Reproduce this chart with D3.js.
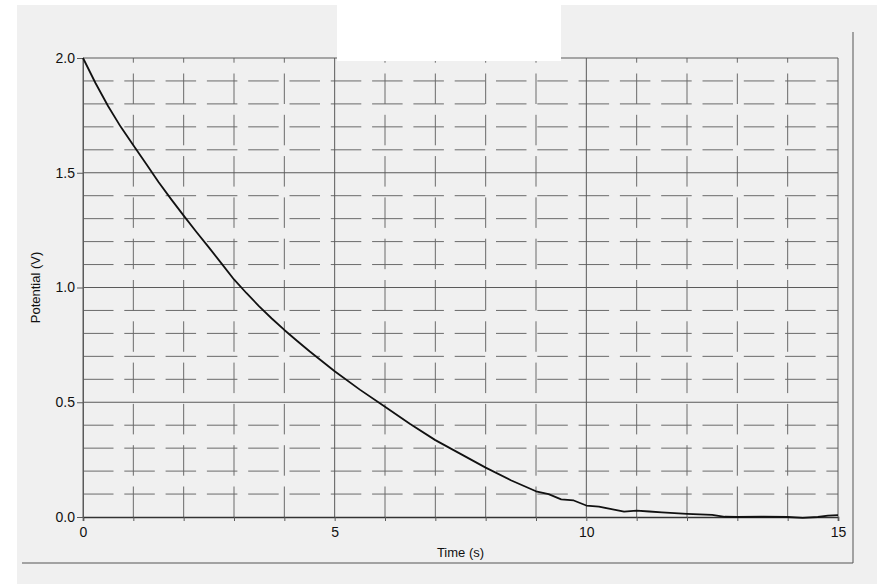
<html>
    <head>
        <title>Potential vs Time</title>
        <script src="https://d3js.org/d3.v7.min.js"></script>
        <style>
            body { margin: 0; background: #ffffff; }
            text { font-family: "Liberation Sans", Arial, sans-serif; fill: #111; }
        </style>
        <script>
            // values
            const times = [0, 0.25, 0.5, 0.75, 1, 1.25, 1.5, 1.75, 2, 2.25, 2.5, 2.75, 3, 3.25, 3.5, 3.75, 4, 4.25, 4.5, 5, 5.5, 6, 6.5, 7, 7.5, 8, 8.5, 9, 9.25, 9.5, 9.75, 10, 10.25, 10.5, 10.75, 11, 11.25, 11.5, 12, 12.5, 12.75, 13, 13.5, 14, 14.3, 14.6, 14.8, 15];
            const volts = [2.00, 1.89, 1.79, 1.70, 1.62, 1.54, 1.46, 1.385, 1.313, 1.243, 1.175, 1.105, 1.035, 0.975, 0.918, 0.865, 0.815, 0.768, 0.722, 0.635, 0.555, 0.48, 0.405, 0.335, 0.275, 0.215, 0.16, 0.112, 0.10, 0.077, 0.072, 0.050, 0.045, 0.034, 0.023, 0.028, 0.024, 0.020, 0.014, 0.009, 0.001, 0.0, 0.001, 0.0, -0.004, 0.0, 0.006, 0.008];
            const xTicks = [0, 5, 10, 15];
            const yTicks = [0, 0.5, 1.0, 1.5, 2.0];

            document.addEventListener('DOMContentLoaded', function(){
                const w = 877;
                const h = 584;

                const xScale = d3.scaleLinear().domain([0, 15]).range([83, 838]);
                const yScale = d3.scaleLinear().domain([0, 2]).range([517, 58]);

                const svg = d3.select("body")
                    .append("svg")
                    .attr("width", w)
                    .attr("height", h);

                // paper
                svg.append("rect")
                    .attr("x", 17).attr("y", 5)
                    .attr("width", w - 17).attr("height", h - 5)
                    .attr("fill", "#f0f0f0");

                // minor grid (dashed)
                const minorX = d3.range(1, 15).filter(d => d % 5 !== 0);
                const minorY = d3.range(1, 20).filter(d => d % 5 !== 0).map(d => d / 10);

                svg.append("g").selectAll("line")
                    .data(minorY)
                    .enter()
                    .append("line")
                    .attr("x1", xScale(0)).attr("x2", xScale(15))
                    .attr("y1", d => yScale(d)).attr("y2", d => yScale(d))
                    .attr("stroke", "#6a6a6a")
                    .attr("stroke-width", 1)
                    .attr("stroke-dasharray", "30.5,10.8");

                svg.append("g").selectAll("line")
                    .data(minorX)
                    .enter()
                    .append("line")
                    .attr("x1", d => xScale(d)).attr("x2", d => xScale(d))
                    .attr("y1", yScale(0)).attr("y2", yScale(2))
                    .attr("stroke", "#6a6a6a")
                    .attr("stroke-width", 1)
                    .attr("stroke-dasharray", "30.5,10.8");

                // major grid (solid)
                svg.append("g").selectAll("line")
                    .data(yTicks.slice(1))
                    .enter()
                    .append("line")
                    .attr("x1", xScale(0)).attr("x2", xScale(15))
                    .attr("y1", d => yScale(d)).attr("y2", d => yScale(d))
                    .attr("stroke", "#5a5a5a")
                    .attr("stroke-width", 1);

                svg.append("g").selectAll("line")
                    .data(xTicks)
                    .enter()
                    .append("line")
                    .attr("x1", d => xScale(d)).attr("x2", d => xScale(d))
                    .attr("y1", yScale(0)).attr("y2", yScale(2))
                    .attr("stroke", "#5a5a5a")
                    .attr("stroke-width", 1);

                // x axis: small ticks at every second, labels at 5 s
                svg.append("g")
                    .attr("transform", `translate(0, ${yScale(0)})`)
                    .call(d3.axisBottom(xScale).tickValues(d3.range(0, 16)).tickSize(4).tickFormat(""))
                    .call(g => g.select(".domain").attr("stroke", "#333").attr("stroke-width", 1.6))
                    .call(g => g.selectAll(".tick line").attr("stroke", "#5a5a5a"));

                svg.append("g")
                    .attr("transform", `translate(0, ${yScale(0)})`)
                    .call(d3.axisBottom(xScale).tickValues(xTicks).tickSize(0).tickPadding(10).tickFormat(d3.format("d")))
                    .call(g => g.select(".domain").remove())
                    .call(g => g.selectAll("text").attr("font-size", 14));

                // y axis
                svg.append("g")
                    .attr("transform", `translate(${xScale(0)}, 0)`)
                    .call(d3.axisLeft(yScale).tickValues(yTicks).tickSize(6).tickPadding(2).tickFormat(d3.format(".1f")))
                    .call(g => g.select(".domain").attr("stroke", "#5a5a5a"))
                    .call(g => g.selectAll(".tick line").attr("stroke", "#5a5a5a"))
                    .call(g => g.selectAll("text").attr("font-size", 14));

                // white patch at the top of the scan
                svg.append("rect")
                    .attr("x", 337).attr("y", 0)
                    .attr("width", 224).attr("height", 61)
                    .attr("fill", "#ffffff");

                // outer frame
                svg.append("line")
                    .attr("x1", 853).attr("x2", 853).attr("y1", 32).attr("y2", 563)
                    .attr("stroke", "#555").attr("stroke-width", 1);
                svg.append("line")
                    .attr("x1", 22).attr("x2", 853).attr("y1", 563).attr("y2", 563)
                    .attr("stroke", "#555").attr("stroke-width", 1);

                // curve
                const data = times.map((t, i) => ({ t: t, v: volts[i] }));
                const line = d3.line()
                    .x(d => xScale(d.t))
                    .y(d => yScale(d.v));

                svg.append("path")
                    .datum(data)
                    .attr("d", line)
                    .attr("fill", "none")
                    .attr("stroke", "#111")
                    .attr("stroke-width", 1.8)
                    .attr("stroke-linejoin", "round");

                // axis titles
                svg.append("text")
                    .attr("x", (xScale(0) + xScale(15)) / 2)
                    .attr("y", 557)
                    .attr("text-anchor", "middle")
                    .attr("font-size", 13)
                    .text("Time (s)");

                svg.append("text")
                    .attr("transform", `translate(40, ${yScale(1)}) rotate(-90)`)
                    .attr("text-anchor", "middle")
                    .attr("font-size", 13)
                    .text("Potential (V)");
            });
        </script>
    </head>
    <body>
    </body>
</html>
